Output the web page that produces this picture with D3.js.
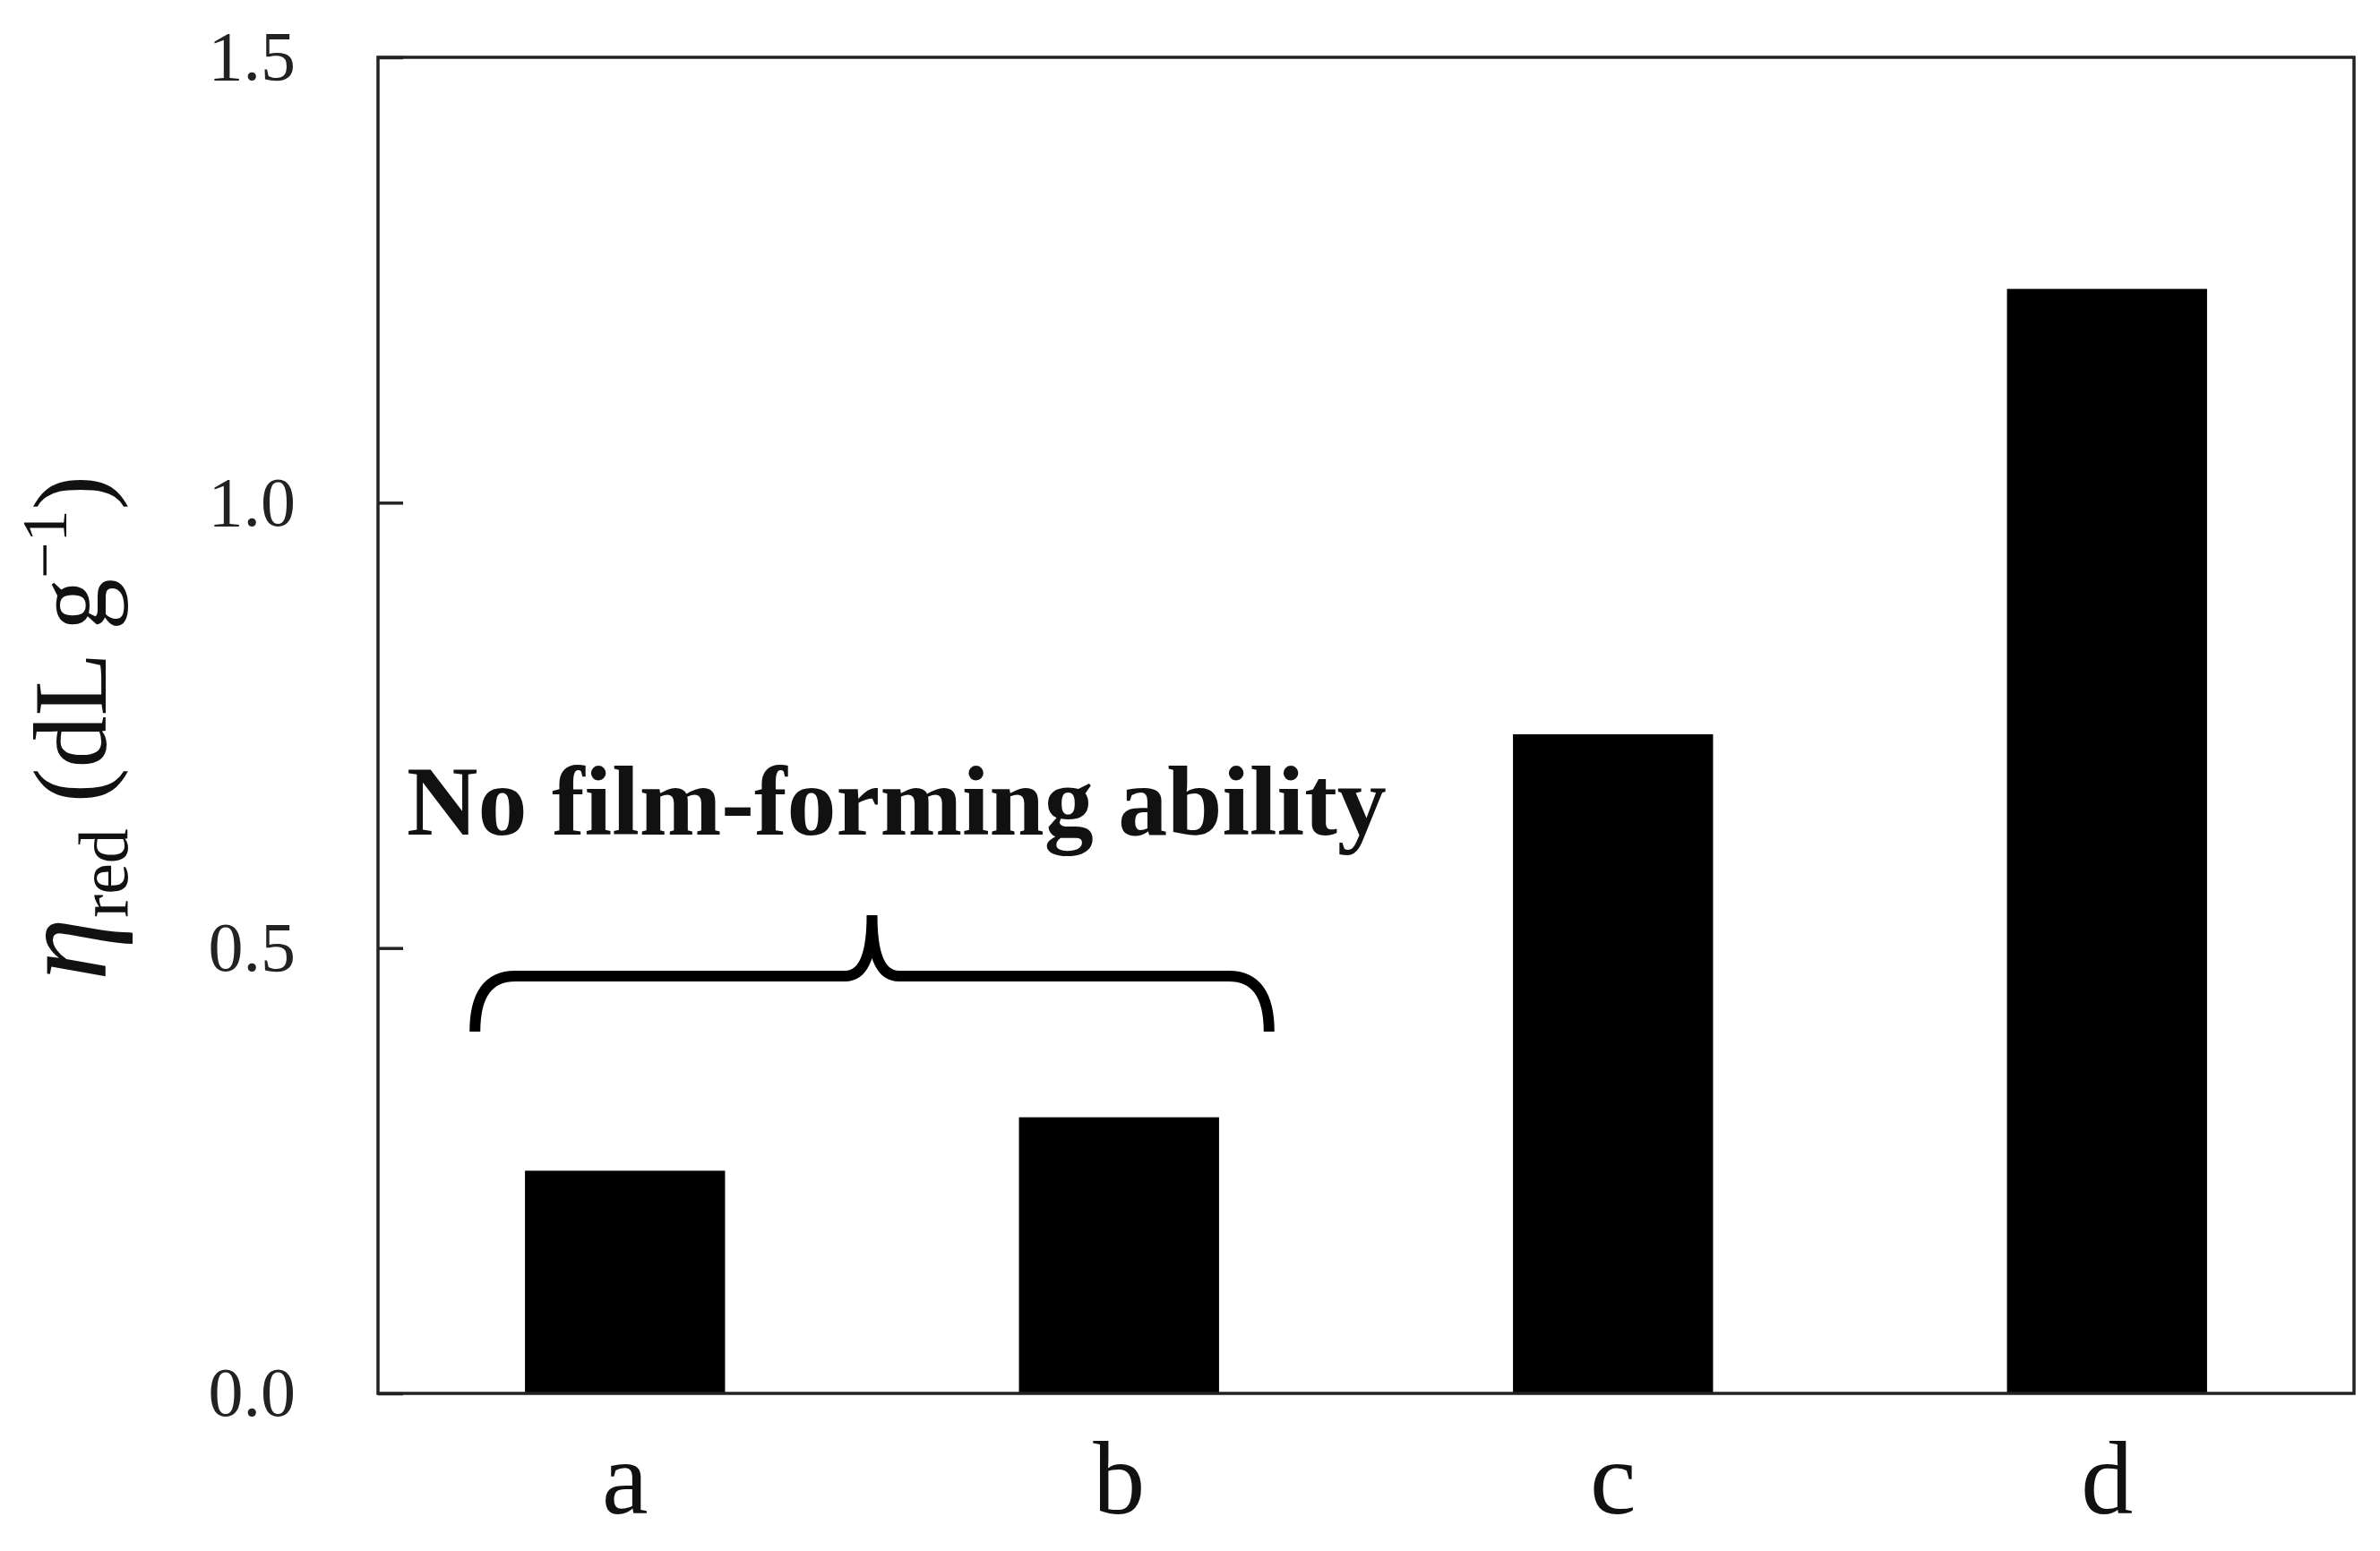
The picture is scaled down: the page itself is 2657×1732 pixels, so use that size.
<!DOCTYPE html>
<html><head><meta charset="utf-8">
<script src="https://cdn.jsdelivr.net/npm/d3@7"></script>
<style>body{margin:0;background:#fff}</style></head>
<body><svg id="c" width="2657" height="1732"></svg>
<script>
const categories = ["a","b","c","d"];
const values = [0.25, 0.31, 0.74, 1.24];
const yTicks = [0, 0.5, 1.0, 1.5];
const annotation = "No film-forming ability";

const W=2657,H=1732, m={l:422,r:29,t:64,b:176};
const svg=d3.select("#c");
const x=d3.scaleBand().domain(categories).range([m.l,W-m.r]).paddingInner(0.595).paddingOuter(0.2975);
const y=d3.scaleLinear().domain([0,1.5]).range([H-m.b,m.t]);
const font="Liberation Serif, Times New Roman, serif";

svg.append("g").selectAll("rect").data(values).join("rect")
 .attr("x",(d,i)=>x(categories[i])).attr("width",x.bandwidth())
 .attr("y",d=>y(d)).attr("height",d=>y(0)-y(d)).attr("fill","#000");

svg.append("rect").attr("x",m.l).attr("y",m.t).attr("width",W-m.r-m.l).attr("height",H-m.b-m.t)
 .attr("fill","none").attr("stroke","#222").attr("stroke-width",3.5);

const ya=svg.append("g").attr("transform",`translate(${m.l},0)`)
 .call(d3.axisLeft(y).tickValues(yTicks).tickFormat(d3.format(".1f")).tickSizeInner(-28).tickSizeOuter(0).tickPadding(92));
ya.select(".domain").remove();
ya.selectAll("line").attr("stroke","#222").attr("stroke-width",3.5);
ya.selectAll("text").attr("font-family",font).attr("font-size",78).attr("fill","#222");

const xa=svg.append("g").attr("transform",`translate(0,${H-m.b})`)
 .call(d3.axisBottom(x).tickSize(0).tickPadding(52));
xa.select(".domain").remove();
xa.selectAll("text").attr("font-family",font).attr("font-size",116).attr("fill","#111");

const yl=svg.append("text").attr("transform","translate(118,813) rotate(-90)")
 .attr("text-anchor","middle").attr("font-family",font).attr("font-size",116).attr("fill","#111");
yl.append("tspan").attr("font-style","italic").attr("font-size",142).text("η");
yl.append("tspan").attr("font-size",78).attr("dy",24).text("red");
yl.append("tspan").attr("dy",-24).text(" (dL g");
yl.append("tspan").attr("font-size",72).attr("dy",-44).text("−1");
yl.append("tspan").attr("dy",44).text(")");

svg.append("text").attr("x",454).attr("y",932).attr("font-family",font).attr("font-weight","bold")
 .attr("font-size",110).attr("fill","#111").text(annotation);

// brace spanning a and b
const x0=x("a")-x.bandwidth()*0.25, x1=x("b")+x.bandwidth()*1.25, xm=(x0+x1)/2;
const yl0=1090, ye=1152, yp=1022, r=30;
const p=d3.path();
p.moveTo(x0,ye); p.quadraticCurveTo(x0,yl0,x0+r*1.5,yl0);
p.lineTo(xm-r,yl0); p.quadraticCurveTo(xm,yl0,xm,yp);
p.quadraticCurveTo(xm,yl0,xm+r,yl0);
p.lineTo(x1-r*1.5,yl0); p.quadraticCurveTo(x1,yl0,x1,ye);
svg.append("path").attr("d",p.toString()).attr("fill","none").attr("stroke","#000").attr("stroke-width",12);
</script></body></html>
